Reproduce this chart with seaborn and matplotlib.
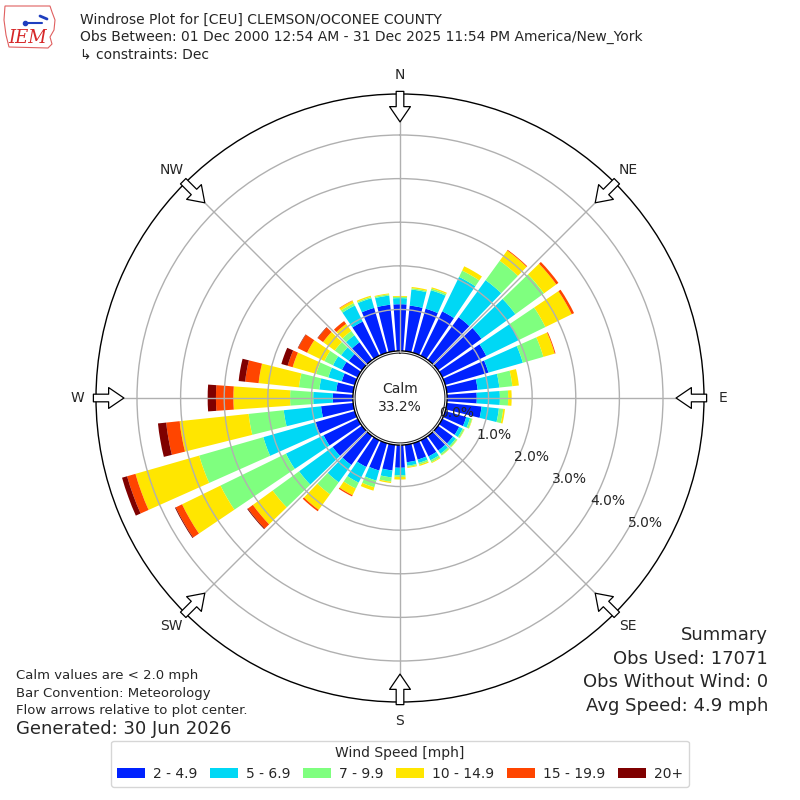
import numpy as np
import pandas as pd
import matplotlib
matplotlib.use("Agg")
import matplotlib.pyplot as plt
import seaborn as sns
from matplotlib.patches import Patch, Circle, Polygon

# ---------- data (percent of all obs, per 10 degree sector) ----------
directions = [0, 10, 20, 30, 40, 50, 60, 70, 80, 90, 100, 110,
              120, 130, 140, 150, 160, 170, 180, 190, 200, 210, 220, 230,
              240, 250, 260, 270, 280, 290, 300, 310, 320, 330, 340, 350]
speed_bins = ["2 - 4.9", "5 - 6.9", "7 - 9.9", "10 - 14.9", "15 - 19.9", "20+"]
speed_colors = ["#0022ff", "#00d8f5", "#7fff7f", "#ffe600", "#ff4500", "#7f0000"]

pct_2_5 = [1.12, 1.10, 1.10, 1.18, 1.26, 1.28, 1.17, 1.08, 0.76, 0.73, 0.85, 0.55,
           0.48, 0.47, 0.46, 0.46, 0.44, 0.45, 0.57, 0.64, 0.70, 0.73, 0.87, 0.88,
           0.92, 0.98, 0.79, 0.51, 0.44, 0.36, 0.45, 0.42, 0.55, 0.92, 1.12, 1.12]
pct_5_7 = [0.14, 0.37, 0.44, 0.88, 1.05, 0.96, 0.83, 0.82, 0.50, 0.53, 0.40, 0.09,
           0.09, 0.08, 0.09, 0.10, 0.08, 0.08, 0.17, 0.16, 0.24, 0.40, 0.49, 0.95,
           0.96, 1.25, 0.86, 0.45, 0.39, 0.32, 0.23, 0.22, 0.20, 0.41, 0.23, 0.21]
pct_7_10 = [0.03, 0.03, 0.04, 0.16, 0.55, 0.81, 0.68, 0.49, 0.30, 0.19, 0.10, 0.05,
            0.04, 0.04, 0.04, 0.05, 0.04, 0.03, 0.04, 0.10, 0.16, 0.15, 0.34, 0.75,
            1.67, 1.53, 0.81, 0.53, 0.47, 0.29, 0.22, 0.18, 0.12, 0.06, 0.03, 0.03]
pct_10_15 = [0.02, 0.03, 0.03, 0.11, 0.29, 0.35, 0.67, 0.27, 0.15, 0.08, 0.04, 0.01,
             0.01, 0.01, 0.01, 0.02, 0.03, 0.02, 0.06, 0.03, 0.08, 0.17, 0.44, 0.56,
             0.98, 1.52, 1.59, 1.30, 0.93, 0.56, 0.44, 0.33, 0.20, 0.06, 0.03, 0.02]
pct_15_20 = [0.00, 0.00, 0.00, 0.00, 0.02, 0.06, 0.06, 0.02, 0.00, 0.00, 0.00, 0.00,
             0.00, 0.00, 0.00, 0.00, 0.00, 0.00, 0.00, 0.00, 0.00, 0.03, 0.04, 0.14,
             0.16, 0.20, 0.31, 0.40, 0.31, 0.12, 0.23, 0.15, 0.08, 0.01, 0.00, 0.00]
pct_20up = [0.00, 0.00, 0.00, 0.00, 0.00, 0.00, 0.00, 0.00, 0.00, 0.00, 0.00, 0.00,
            0.00, 0.00, 0.00, 0.00, 0.00, 0.00, 0.00, 0.00, 0.00, 0.00, 0.00, 0.02,
            0.02, 0.12, 0.19, 0.19, 0.15, 0.15, 0.01, 0.01, 0.00, 0.00, 0.00, 0.00]

calm_pct = 33.2
compass = ["N", "NE", "E", "SE", "S", "SW", "W", "NW"]
compass_deg = [0, 45, 90, 135, 180, 225, 270, 315]
ring_ticks = [0, 1, 2, 3, 4, 5]

title_lines = [
    "Windrose Plot for [CEU] CLEMSON/OCONEE COUNTY",
    "Obs Between: 01 Dec 2000 12:54 AM - 31 Dec 2025 11:54 PM America/New_York",
    "\u21b3 constraints: Dec",
]
summary_lines = ["Summary", "Obs Used: 17071", "Obs Without Wind: 0", "Avg Speed: 4.9 mph"]
note_lines = ["Calm values are < 2.0 mph", "Bar Convention: Meteorology",
              "Flow arrows relative to plot center."]

# ---------- settings ----------
sns.set_style("white")
plt.rcParams["font.family"] = ["DejaVu Sans"]

all_vals = [pct_2_5, pct_5_7, pct_7_10, pct_10_15, pct_15_20, pct_20up]
df = pd.DataFrame({
    "theta": np.deg2rad(np.tile(directions, len(speed_bins))),
    "speed": np.repeat(speed_bins, len(directions)),
    "pct": np.concatenate(all_vals),
})
edges = np.deg2rad(np.append(np.array(directions) - 5, directions[-1] + 5)).tolist()

fig = plt.figure(figsize=(8, 8), dpi=100)
ax = fig.add_axes([0.12, 0.1225, 0.76, 0.76], projection="polar")

# seaborn stacks the first hue level on top, so feed the speeds slowest-last
sns.histplot(data=df, x="theta", weights="pct", hue="speed", hue_order=speed_bins[::-1],
             palette=speed_colors[::-1], bins=edges, multiple="stack", shrink=0.8,
             element="bars", edgecolor="none", linewidth=0, alpha=1,
             legend=False, ax=ax)
ax.set_xlabel("")
ax.set_ylabel("")

ax.set_theta_zero_location("N")
ax.set_theta_direction(-1)
rmax = 5.94
ax.set_ylim(0, rmax)
ax.set_rorigin(-1.03)

ax.set_thetagrids(compass_deg, compass, fontsize=10)
ax.set_rgrids(ring_ticks, labels=[""] * len(ring_ticks))
ax.set_axisbelow(False)
ax.grid(True, color="#b0b0b0", lw=1)
ax.yaxis.get_gridlines()[0].set_visible(False)
ax.tick_params(axis="x", pad=3)
ax.spines["polar"].set_color("black")
ax.spines["polar"].set_linewidth(1)

for r in ring_ticks:
    ax.text(np.deg2rad(120), r, f"{r:.1f}%", ha="left", va="bottom",
            fontsize=10, zorder=6)

# calm circle in the middle
ax.add_patch(Circle((0.5, 0.5), 0.0775, transform=ax.transAxes,
                    facecolor="white", edgecolor="black", lw=1, zorder=2.2))
ax.text(0.5, 0.5, f"Calm\n{calm_pct:.1f}%", transform=ax.transAxes,
        ha="center", va="center", fontsize=10, zorder=6, linespacing=1.3)

# flow arrows on the rim
for d in compass_deg:
    ax.annotate("", xy=(np.deg2rad(d), 5.3), xytext=(np.deg2rad(d), 6.0),
                arrowprops=dict(arrowstyle="simple,head_length=1.1,head_width=1.5,tail_width=0.55",
                                fc="white", ec="black", lw=0.9, shrinkA=0, shrinkB=0,
                                mutation_scale=10),
                annotation_clip=False, zorder=7)

# ---------- logo (rough) ----------
logo_px = [(5, 6), (50, 6), (52, 12), (55, 20), (54, 30), (50, 37), (52, 44),
           (48, 48), (9, 47), (6, 35), (4, 20)]
fig.patches.append(Polygon([(x / 800, 1 - y / 800) for x, y in logo_px], closed=True,
                           fill=False, edgecolor="#e06060", lw=0.8,
                           transform=fig.transFigure, figure=fig))
fig.add_artist(plt.Line2D([25 / 800, 42 / 800], [1 - 23 / 800, 1 - 23 / 800],
                          color="#1f3fbf", lw=1.5, marker="o", markersize=3,
                          markevery=[0], transform=fig.transFigure))
fig.add_artist(plt.Line2D([40 / 800, 47 / 800], [1 - 16 / 800, 1 - 19 / 800],
                          color="#1f3fbf", lw=2, transform=fig.transFigure))
fig.text(0.035, 0.952, "IEM", color="#d62728", fontsize=13, style="italic",
         family="DejaVu Serif", ha="center", va="center")

# ---------- texts ----------
for i, line in enumerate(title_lines):
    fig.text(0.1, 0.975 - i * 0.0213, line, fontsize=10, va="center")
for i, line in enumerate(summary_lines):
    fig.text(0.96, 0.206 - i * 0.0293, line, fontsize=13, ha="right", va="center")
for i, line in enumerate(note_lines):
    fig.text(0.02, 0.155 - i * 0.0213, line, fontsize=9.5, va="center")
fig.text(0.02, 0.089, "Generated: 30 Jun 2026", fontsize=13, va="center")

handles = [Patch(facecolor=c, edgecolor="none") for c in speed_colors]
fig.legend(handles, speed_bins, loc="lower center", bbox_to_anchor=(0.5, 0.008),
           ncol=6, title="Wind Speed [mph]", fontsize=10, title_fontsize=10,
           frameon=True, edgecolor="#cccccc", handlelength=2.0, handletextpad=0.6,
           columnspacing=0.9)

fig.savefig("out.png", dpi=100)
